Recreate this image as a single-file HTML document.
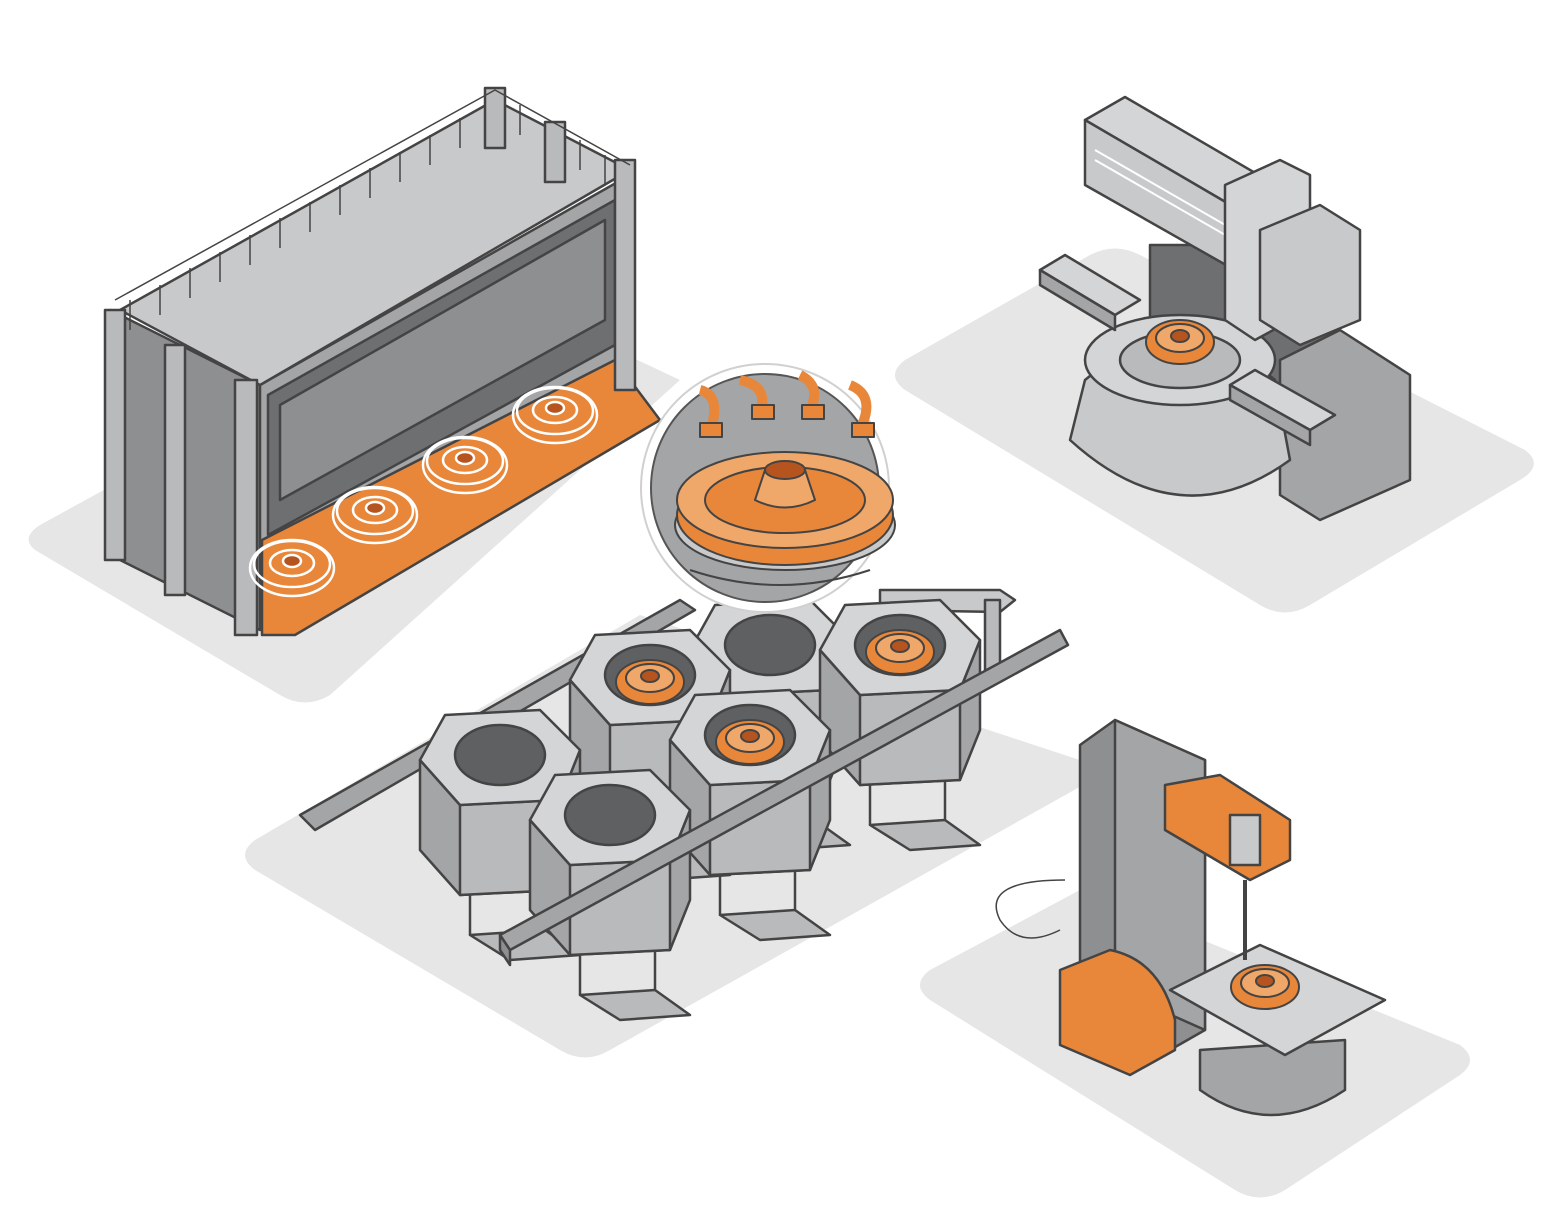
<!DOCTYPE html>
<html><head><meta charset="utf-8"><style>html,body{margin:0;padding:0;background:#fff}svg{display:block}</style></head><body>
<svg width="1564" height="1213" viewBox="0 0 1564 1213" xmlns="http://www.w3.org/2000/svg" stroke-linejoin="round">
<defs>
<g id="hex" stroke="#444" stroke-width="2.5">
  <polygon points="-80,0 -40,45 60,40 80,-10 80,80 60,130 -40,135 -80,90" fill="#a4a5a7"/>
  <polygon points="-40,45 60,40 60,130 -40,135" fill="#b9babc"/>
  <polygon points="-80,0 -55,-45 40,-50 80,-10 60,40 -40,45" fill="#d4d5d6"/>
  <ellipse cx="0" cy="-5" rx="45" ry="30" fill="#5f6062"/>
  <path d="M-30,135 v40 M45,130 v40" fill="none"/>
  <polygon points="-30,175 45,170 80,195 10,200" fill="#b9babc"/>
</g>
<g id="ow" stroke="#444" stroke-width="2">
  <ellipse cx="0" cy="2" rx="34" ry="22" fill="#e8873a"/>
  <ellipse cx="0" cy="-2" rx="24" ry="14" fill="#f0a86a"/>
  <ellipse cx="0" cy="-4" rx="9" ry="6" fill="#b5541f"/>
</g>
<g id="ww" fill="none" stroke="#fff" stroke-width="2.5">
  <ellipse cx="0" cy="0" rx="42" ry="28"/><ellipse cx="0" cy="-4" rx="38" ry="23"/>
  <ellipse cx="0" cy="-5" rx="22" ry="13"/><ellipse cx="0" cy="-7" rx="9" ry="6" fill="#b5541f"/>
</g>
</defs>
<!-- platforms -->
<g fill="#e6e6e7">
<path d="M40,525 L450,300 Q480,285 510,300 L680,380 L330,695 Q305,710 280,695 L35,550 Q20,538 40,525Z"/>
<path d="M905,360 L1090,255 Q1115,242 1140,255 L1525,450 Q1545,465 1520,480 L1310,605 Q1285,620 1260,605 L905,390 Q885,375 905,360Z"/>
<path d="M255,840 L640,615 L1110,770 L610,1050 Q585,1065 560,1050 L255,870 Q235,855 255,840Z"/>
<path d="M930,970 L1080,890 L1460,1045 Q1480,1060 1460,1075 L1285,1190 Q1260,1205 1235,1190 L930,1000 Q910,985 930,970Z"/>
</g>
<!-- container -->
<g stroke="#444" stroke-width="2.5">
<polygon points="110,310 260,385 260,630 110,555" fill="#8e8f91"/>
<polygon points="260,385 630,175 630,370 260,560" fill="#a4a5a7"/>
<polygon points="268,395 615,200 615,345 268,535" fill="#6e6f71"/>
<polygon points="280,405 605,220 605,320 280,500" fill="#8e8f91"/>
<polygon points="262,540 615,360 660,420 295,635 262,635" fill="#e8873a"/>
<polygon points="120,310 495,100 630,170 260,385" fill="#c8c9ca"/>
<rect x="105" y="310" width="20" height="250" fill="#b9babc"/>
<rect x="165" y="345" width="20" height="250" fill="#b9babc"/>
<rect x="235" y="380" width="22" height="255" fill="#b9babc"/>
<rect x="615" y="160" width="20" height="230" fill="#b9babc"/>
<rect x="485" y="88" width="20" height="60" fill="#b9babc"/>
<rect x="545" y="122" width="20" height="60" fill="#b9babc"/>
</g>
<g stroke="#444" stroke-width="1.5" fill="none">
<path d="M115,300 L495,90 L630,165"/>
<path d="M130,300 V330 M160,285 V315 M190,268 V298 M220,252 V282 M250,235 V265 M280,218 V248 M310,202 V232 M340,185 V215 M370,168 V198 M400,152 V182 M430,135 V165 M460,118 V148 M520,105 V135 M580,140 V170 M605,155 V185"/>
</g>
<use href="#ww" x="292" y="568"/><use href="#ww" x="375" y="515"/><use href="#ww" x="465" y="465"/><use href="#ww" x="555" y="415"/>
<!-- center machine -->
<g stroke="#444" stroke-width="2.5">
<polygon points="300,815 680,600 695,610 315,830" fill="#a4a5a7"/>
<polygon points="880,590 1000,590 1015,600 1000,612 880,610" fill="#c8c9ca"/>
<rect x="985" y="600" width="15" height="70" fill="#b9babc"/>
</g>
<use href="#hex" x="770" y="650"/>
<use href="#hex" x="900" y="650"/>
<use href="#hex" x="650" y="680"/>
<use href="#hex" x="500" y="760"/>
<use href="#hex" x="750" y="740"/>
<use href="#hex" x="610" y="820"/>
<use href="#ow" x="650" y="680"/><use href="#ow" x="750" y="740"/><use href="#ow" x="900" y="650"/>
<g stroke="#444" stroke-width="2.5">
<polygon points="500,935 1060,630 1068,645 510,950" fill="#a4a5a7"/>
<polygon points="500,935 510,950 510,965 500,950" fill="#8e8f91"/>
</g>
<!-- magnifier -->
<circle cx="765" cy="488" r="124" fill="#fff" stroke="#d0d0d0" stroke-width="2"/>
<circle cx="765" cy="488" r="114" fill="#a4a5a7" stroke="#555" stroke-width="2"/>
<ellipse cx="785" cy="525" rx="110" ry="45" fill="#c8c9ca" stroke="#444" stroke-width="2"/>
<g stroke="#444" stroke-width="2">
<ellipse cx="785" cy="515" rx="108" ry="50" fill="#e8873a"/>
<ellipse cx="785" cy="500" rx="108" ry="48" fill="#f0a86a"/>
<ellipse cx="785" cy="500" rx="80" ry="33" fill="#e8873a"/>
<path d="M755,500 L765,470 H805 L815,500 Q785,515 755,500Z" fill="#f0a86a"/>
<ellipse cx="785" cy="470" rx="20" ry="9" fill="#b5541f"/>
<path d="M690,570 Q780,600 870,570" fill="none"/>
</g>
<g stroke="#444" stroke-width="2" fill="#e8873a">
<path d="M700,390 Q720,395 712,425" fill="none" stroke="#e8873a" stroke-width="10"/>
<path d="M740,380 Q765,385 762,405" fill="none" stroke="#e8873a" stroke-width="10"/>
<path d="M800,375 Q820,385 812,405" fill="none" stroke="#e8873a" stroke-width="10"/>
<path d="M850,385 Q875,395 862,425" fill="none" stroke="#e8873a" stroke-width="10"/>
<rect x="700" y="423" width="22" height="14"/><rect x="752" y="405" width="22" height="14"/><rect x="802" y="405" width="22" height="14"/><rect x="852" y="423" width="22" height="14"/>
</g>
<!-- top right machine -->
<g stroke="#444" stroke-width="2.5">
<polygon points="1150,245 1255,245 1340,330 1340,400 1280,400 1150,320" fill="#6e6f71"/>
<polygon points="1280,360 1340,330 1410,375 1410,480 1320,520 1280,495" fill="#a4a5a7"/>
<path d="M1085,380 Q1180,300 1275,380 L1290,460 Q1180,540 1070,440Z" fill="#c8c9ca"/>
<ellipse cx="1180" cy="360" rx="95" ry="45" fill="#d4d5d6"/>
<ellipse cx="1180" cy="360" rx="60" ry="28" fill="#b9babc"/>
<polygon points="1040,270 1065,255 1140,300 1115,315" fill="#d4d5d6"/>
<polygon points="1040,270 1115,315 1115,330 1040,285" fill="#a4a5a7"/>
<polygon points="1230,385 1255,370 1335,415 1310,430" fill="#d4d5d6"/>
<polygon points="1230,385 1310,430 1310,445 1230,400" fill="#a4a5a7"/>
<polygon points="1085,120 1125,97 1310,205 1270,228" fill="#d4d5d6"/>
<polygon points="1085,120 1270,228 1270,290 1085,185" fill="#c8c9ca"/>
<path d="M1095,150 L1260,245 M1095,160 L1260,255" stroke="#fff" stroke-width="2" fill="none"/>
<polygon points="1225,185 1280,160 1310,175 1310,310 1255,340 1225,320" fill="#d4d5d6"/>
<polygon points="1260,230 1320,205 1360,230 1360,320 1300,345 1260,320" fill="#c8c9ca"/>
</g>
<use href="#ow" x="1180" y="340"/>
<!-- bottom right machine -->
<g stroke="#444" stroke-width="2.5">
<path d="M1065,880 Q980,880 1000,920 Q1020,950 1060,930" fill="none" stroke-width="1.5"/>
<polygon points="1080,745 1115,720 1205,760 1205,1030 1170,1050 1080,1010" fill="#8e8f91"/>
<polygon points="1115,720 1205,760 1205,1030 1115,990" fill="#a4a5a7"/>
<path d="M1200,1050 V1090 Q1270,1140 1345,1090 V1040Z" fill="#a4a5a7"/>
<polygon points="1170,990 1260,945 1385,1000 1285,1055" fill="#d4d5d6"/>
<path d="M1060,970 L1110,950 Q1160,960 1175,1020 L1175,1050 L1130,1075 L1060,1045Z" fill="#e8873a"/>
<path d="M1165,785 L1220,775 L1290,820 L1290,860 L1250,880 L1165,830Z" fill="#e8873a"/>
<rect x="1230" y="815" width="30" height="50" fill="#c8c9ca"/>
<line x1="1245" y1="880" x2="1245" y2="960" stroke-width="4"/>
</g>
<use href="#ow" x="1265" y="985"/>
</svg>
</body></html>
